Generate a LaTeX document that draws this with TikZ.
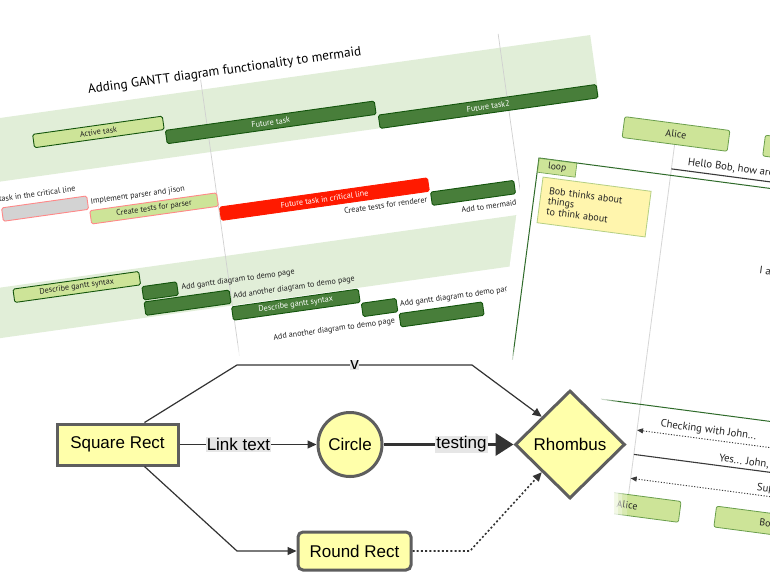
\documentclass[tikz,border=0pt]{standalone}
\usepackage{fontspec}
\setmainfont{Liberation Sans}
\newfontfamily\gfont{PT Sans}
\usetikzlibrary{arrows.meta,shapes.geometric}
\definecolor{bandc}{HTML}{E1EED8}
\definecolor{gridc}{HTML}{D0D0D0}
\definecolor{taskbg}{HTML}{487E3A}
\definecolor{taskbd}{HTML}{13540C}
\definecolor{activebg}{HTML}{CDE498}
\definecolor{critbd}{HTML}{FF8888}
\definecolor{donebg}{HTML}{D3D3D3}
\definecolor{critbg}{HTML}{FF1A00}
\definecolor{gtext}{HTML}{222222}
\definecolor{actorbd}{HTML}{6A9E4C}
\definecolor{loopbd}{HTML}{2F6B2A}
\definecolor{notebg}{HTML}{FFF5AD}
\definecolor{notebd}{HTML}{B5CF84}
\definecolor{lifec}{HTML}{D6D6D6}
\definecolor{msgc}{HTML}{3A3A3A}
\definecolor{fnodebg}{HTML}{FFFFAA}
\definecolor{fnodebd}{HTML}{5E5E5E}
\definecolor{fedgec}{HTML}{333333}
\definecolor{flabelc}{HTML}{E6E6E6}
\tikzset{
  gbar/.style={rounded corners=1.6pt, line width=0.9pt, minimum height=13.5pt, inner sep=0pt, font=\gfont\fontsize{8.1}{9}\selectfont},
  darkbar/.style={gbar, draw=taskbd, fill=taskbg, text=white},
  activebar/.style={gbar, draw=taskbd, fill=activebg, text=gtext},
  critactivebar/.style={gbar, draw=critbd, fill=activebg, text=gtext},
  critdonebar/.style={gbar, draw=critbd, fill=donebg},
  critbar/.style={gbar, draw=critbg, fill=critbg, text=white},
  gtxt/.style={inner sep=0pt, text=gtext, font=\gfont\fontsize{8.1}{9}\selectfont},
  gtitle/.style={inner sep=0pt, text=black, font=\gfont\fontsize{13.2}{15}\selectfont},
  gridline/.style={draw=gridc, line width=0.7pt},
  actorbox/.style={draw=actorbd, fill=activebg, line width=0.8pt, rounded corners=2pt, minimum width=106pt, minimum height=21pt, inner sep=0pt, text=gtext, font=\gfont\fontsize{10}{11}\selectfont},
  lifeline/.style={draw=lifec, line width=0.8pt},
  loopframe/.style={draw=loopbd, line width=1pt},
  looplabel/.style={draw=actorbd, fill=activebg, line width=0.6pt, minimum width=38pt, minimum height=14pt, inner sep=0pt, text=gtext, font=\gfont\fontsize{9.5}{10}\selectfont},
  notebox/.style={draw=notebd, fill=notebg, line width=0.8pt, minimum width=109pt, minimum height=46pt, inner sep=0pt, text width=93pt, align=left, text=gtext, font=\gfont\fontsize{10}{10.4}\selectfont},
  msgtext/.style={inner sep=0pt, text=gtext, font=\gfont\fontsize{10.7}{11}\selectfont},
  msgsolid/.style={draw=msgc, line width=1.1pt, -{Triangle[length=6pt,width=5pt]}},
  msgdotted/.style={draw=msgc, line width=0.9pt, dash pattern=on 1.2pt off 1.6pt, -{Triangle[length=6pt,width=5pt]}},
  fbox/.style={draw=fnodebd, fill=fnodebg, line width=3pt, inner sep=0pt, font=\fontsize{17}{20}\selectfont, text=black},
  fedge/.style={draw=fedgec, line width=1.2pt, -{Triangle[length=9pt,width=8pt]}},
  fthick/.style={draw=fedgec, line width=3.6pt, -{Triangle[length=18pt,width=22pt]}},
  fdot/.style={draw=fedgec, line width=1.6pt, dash pattern=on 2pt off 2.2pt, -{Triangle[length=9pt,width=8pt]}},
  flabel/.style={fill=flabelc, inner sep=1pt, font=\fontsize{17}{20}\selectfont, text=black},
}
\begin{document}
\begin{tikzpicture}[x=1pt,y=-1pt]
\useasboundingbox (0,0) rectangle (770,587);
\clip (0,0) rectangle (770,587);
\fill[white] (0,0) rectangle (770,587);

% ---------------- Gantt chart (rotated) ----------------
\begin{scope}[shift={(0,118)}, rotate=8, transform shape]
  \fill[bandc] (-40,0) rectangle (596,63);
  \fill[bandc] (-40,168) rectangle (596,218);
  \draw[gridline] (204,-10) -- (204,320);
  \draw[gridline] (505,-14) -- (505,320);
  \node[gtitle] (gtitle) at (229,-15) {Adding GANTT diagram functionality to mermaid};
  % section A
  \node[activebar, minimum width=131pt] (g1) at (95.5,27.5) {Active task};
  \node[darkbar, minimum width=211pt] (g2) at (267.5,42) {Future task};
  \node[darkbar, minimum width=220pt] (g3) at (485,56.5) {Future task2};
  % critical tasks
  \node[gtxt, anchor=east] (gt1) at (65,81) {Completed task in the critical line};
  \node[critdonebar, minimum width=86pt] (g4) at (32,96) {};
  \node[gtxt, anchor=west] (gt2) at (78,96) {Implement parser and jison};
  \node[critactivebar, minimum width=128pt] (g5) at (140,111) {Create tests for parser};
  \node[critbar, minimum width=210pt] (g6) at (310,125.5) {Future task in critical line};
  \node[gtxt, anchor=east] (gt3) at (412,140) {Create tests for renderer};
  \node[darkbar, minimum width=84pt] (g7) at (458,140) {};
  \node[gtxt, anchor=west] (gt4) at (444,155.5) {Add to mermaid};
  % documentation
  \node[activebar, minimum width=127pt] (g8) at (52.5,178) {Describe gantt syntax};
  \node[darkbar, minimum width=35pt] (g9) at (134.5,193.5) {};
  \node[gtxt, anchor=west] (gt5) at (156,193.5) {Add gantt diagram to demo page};
  \node[darkbar, minimum width=86pt] (g10) at (160,209) {};
  \node[gtxt, anchor=west] (gt6) at (206,209) {Add another diagram to demo page};
  % last section
  \node[darkbar, minimum width=128pt] (g11) at (267,226) {Describe gantt syntax};
  \node[darkbar, minimum width=35pt] (g12) at (349.5,240.5) {};
  \node[gtxt, anchor=west] (gt7) at (370,240.5) {Add gantt diagram to demo page};
  \node[darkbar, minimum width=84pt] (g13) at (410,256) {};
  \node[gtxt, anchor=east] (gt8) at (363,256) {Add another diagram to demo page};
\end{scope}

% ---------------- Sequence diagram (rotated) ----------------
\begin{scope}[shift={(539,158)}, rotate=-7.5, transform shape]
  \fill[white] (-15,-46) rectangle (560,440);
  \coordinate (aliceTop) at (132.7,-31);
  \coordinate (aliceBot) at (132.7,322);
  \draw[lifeline] (aliceTop) -- (aliceBot);
  \node[actorbox] (alice1) at (132.7,-41.7) {Alice};
  \node[actorbox] (bob1) at (274.5,-41.7) {Bob};
  \node[actorbox] (alice2) at (132.7,332.5) {Alice};
  \node[actorbox] (bob2) at (274.5,332.5) {Bob};
  % first message
  \node[msgtext] (m1) at (203.6,-15) {Hello Bob, how are you?};
  \coordinate (m1a) at (132.7,-6.5);
  \coordinate (m1b) at (274.5,-6.5);
  \draw[msgsolid] (m1a) -- (m1b);
  % loop
  \draw[loopframe] (0,0) rectangle (480,231);
  \node[looplabel, anchor=north west] (loop) at (0,0) {loop};
  \node[notebox] (note) at (61,41.4) {Bob thinks about\\things\\to think about};
  \node[msgtext] (m2) at (274.5,83) {I am good thanks!};
  % later messages
  \node[msgtext] (m3) at (203.6,248) {Checking with John...};
  \coordinate (m3a) at (274.5,257);
  \coordinate (m3b) at (132.7,257);
  \draw[msgdotted] (m3a) -- (m3b);
  \node[msgtext] (m4) at (274.5,274.5) {Yes... John, how are you?};
  \coordinate (m4a) at (132.7,281.5);
  \coordinate (m4b) at (416.3,281.5);
  \draw[msgsolid] (m4a) -- (m4b);
  \node[msgtext, anchor=west] (m5) at (259,298.5) {Sup};
  \coordinate (m5a) at (416.3,305.6);
  \coordinate (m5b) at (132.7,305.6);
  \draw[msgdotted] (m5a) -- (m5b);
\end{scope}

% ---------------- Flowchart backdrop ----------------
\def\fcbg{(-30,356) -- (440,356) .. controls (560,356) and (614,378) .. (614,445) -- (614,610) -- (-30,610) -- cycle}
\draw[white, line width=26pt, opacity=0.25] \fcbg;
\draw[white, line width=16pt, opacity=0.35] \fcbg;
\draw[white, line width=8pt, opacity=0.5] \fcbg;
\fill[white] \fcbg;

% ---------------- Flowchart ----------------
\node[fbox, minimum width=121pt, minimum height=41pt] (sq) at (117.5,444.5) {Square Rect};
\node[fbox, circle, minimum size=64pt] (ci) at (350,444.5) {Circle};
\node[fbox, diamond, minimum width=110pt, minimum height=108pt] (rh) at (570,444.5) {Rhombus};
\node[fbox, rounded corners=5pt, minimum width=113pt, minimum height=38pt] (rr) at (354.5,551) {Round Rect};
\coordinate (t1) at (237,365);
\coordinate (t2) at (472,365);
\coordinate (b1) at (237,551);
\coordinate (d1) at (470,551);
\draw[fedge] (sq) -- node[flabel, pos=0.43] (l1) {Link text} (ci);
\draw[fthick] (ci) -- node[flabel, pos=0.6] (l2) {testing} (rh);
\draw[fedge] ([xshift=27pt]sq.north) -- (t1) -- node[flabel, inner sep=0.5pt] (l3) {v} (t2) -- (rh.north west);
\draw[fedge] ([xshift=27pt]sq.south) -- (b1) -- (rr);
\draw[fdot] (rr) -- (d1) -- (rh.south west);
\end{tikzpicture}
\end{document}
